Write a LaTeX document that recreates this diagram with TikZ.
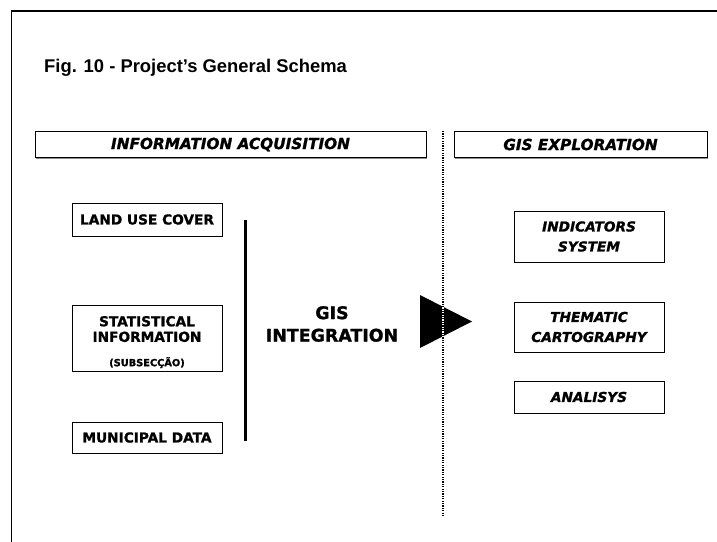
\documentclass[tikz,border=0pt]{standalone}
\usepackage{fontspec}
\setmainfont{Liberation Sans}
\newfontfamily\djv{DejaVu Sans}[BoldFeatures={FakeBold=1.2}, BoldItalicFeatures={FakeBold=1.2}]
\usetikzlibrary{shadows}
\begin{document}
\begin{tikzpicture}[x=1bp,y=-1bp,
  box/.style={draw=black, line width=0.8bp, fill=white, inner sep=0pt,
    minimum width=150bp,
    drop shadow={shadow xshift=1.2bp, shadow yshift=-1.2bp, fill=black!45, opacity=1}},
  bfont/.style={font=\djv\bfseries\fontsize{13.7bp}{20bp}\selectfont},
  ifont/.style={font=\djv\bfseries\itshape\fontsize{13.7bp}{20bp}\selectfont},
  hdr/.style={box, minimum height=26bp, font=\djv\bfseries\itshape\fontsize{15.3bp}{18bp}\selectfont},
  frame/.style={line width=1.5bp},
  bar/.style={line width=3bp},
  divider/.style={line width=1.4bp, dash pattern=on 1.2bp off 1.2bp}
]
\useasboundingbox (0,0) rectangle (717,542);

% frame (top and left edges)
\coordinate (fr) at (717,10.8);
\coordinate (fc) at (11.3,10.8);
\coordinate (fb) at (11.3,542);
\draw[frame] (fr) -- (fc) -- (fb);

% title
\node[anchor=base west, inner sep=0pt, font=\bfseries\fontsize{18.4bp}{22bp}\selectfont]
  (title) at (44,72.5) {Fig. 10 - Project’s General Schema};

% headers
\node[hdr, minimum width=391bp] (acq) at (230.5,144.5) {INFORMATION ACQUISITION};
\node[hdr, minimum width=253bp] (expl) at (580.5,144.5) {GIS EXPLORATION};

% left boxes
\node[box, bfont, minimum height=33bp] (land) at (147,219.5) {LAND USE COVER};
\node[box, minimum height=66bp, align=center,
  font=\djv\bfseries\fontsize{13.7bp}{15.5bp}\selectfont] (stat) at (147,338)
  {\rule{0pt}{18.4bp}STATISTICAL\\INFORMATION\\[8.9bp]{\fontsize{9.8bp}{15.5bp}\selectfont(SUBSECÇÃO)}};
\node[box, bfont, minimum height=31bp] (muni) at (147,437.5) {MUNICIPAL DATA};

% integration bar and label
\coordinate (bt) at (245,220);
\coordinate (bb) at (245,441);
\draw[bar] (bt) -- (bb);
\node[align=center, inner sep=0pt, font=\djv\bfseries\fontsize{17.4bp}{22.5bp}\selectfont]
  (gis) at (332,324) {GIS\\INTEGRATION};

% arrow triangle
\fill (420,295) -- (472,321.5) -- (420,348) -- cycle;

% dotted divider
\coordinate (dt) at (443,131);
\coordinate (db) at (443,517);
\draw[white, line width=1.4bp] (dt) -- (db);
\draw[divider] (dt) -- (db);

% right boxes
\node[box, ifont, minimum height=51bp, align=center] (ind) at (589,236.5) {INDICATORS\\SYSTEM};
\node[box, ifont, minimum height=50bp, align=center] (them) at (589,327) {THEMATIC\\CARTOGRAPHY};
\node[box, ifont, minimum height=32bp] (anal) at (589,397) {ANALISYS};
\end{tikzpicture}
\end{document}
